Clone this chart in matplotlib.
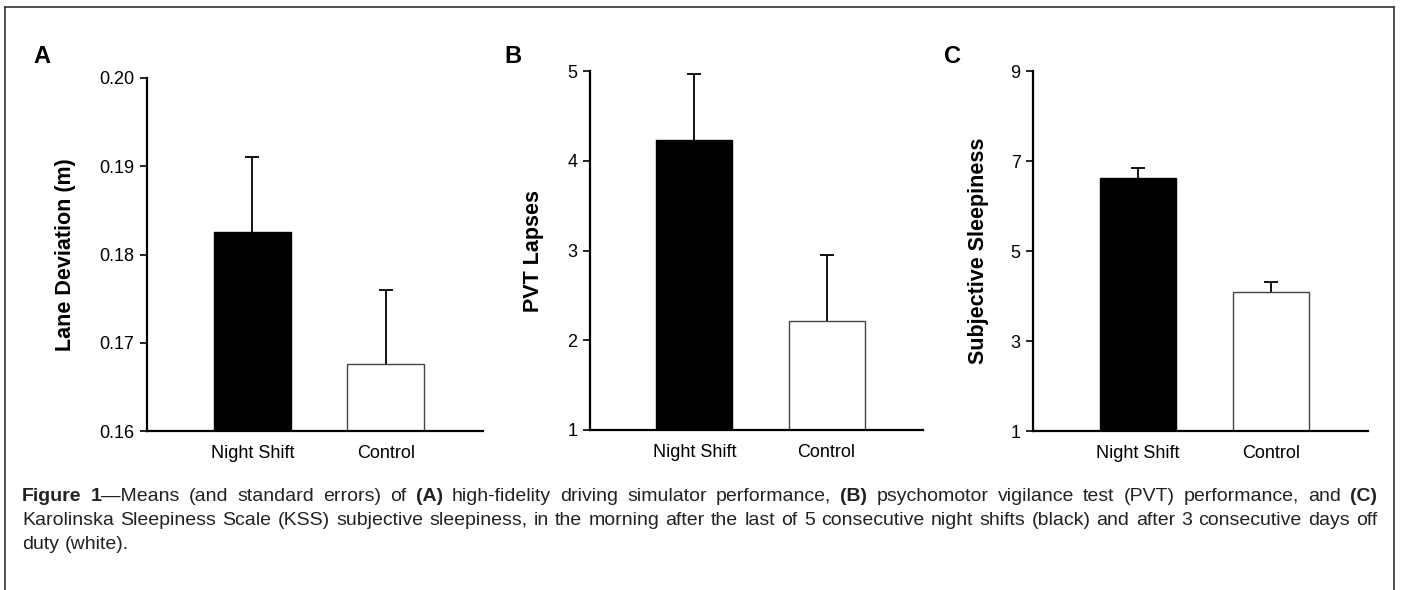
import matplotlib
matplotlib.use("Agg")
import matplotlib.pyplot as plt
from matplotlib import font_manager
from matplotlib.lines import Line2D

# ---------------------------------------------------------------------------
# Data
# ---------------------------------------------------------------------------
groups = ["Night Shift", "Control"]

lane_dev = [0.1825, 0.1676]
lane_dev_se = [0.0085, 0.0084]

pvt_lapses = [4.23, 2.21]
pvt_lapses_se = [0.74, 0.74]

sleepiness = [6.62, 4.09]
sleepiness_se = [0.22, 0.22]

lane_ticks = [0.16, 0.17, 0.18, 0.19, 0.20]
pvt_ticks = [1, 2, 3, 4, 5]
kss_ticks = [1, 3, 5, 7, 9]

caption_lines = [
    [("Figure 1", True), ("\u2014Means (and standard errors) of ", False), ("(A)", True),
     (" high-fidelity driving simulator performance, ", False), ("(B)", True),
     (" psychomotor vigilance test (PVT) performance, and ", False), ("(C)", True)],
    [("Karolinska Sleepiness Scale (KSS) subjective sleepiness, in the morning after the "
      "last of 5 consecutive night shifts (black) and after 3 consecutive days off", False)],
    [("duty (white).", False)],
]

# ---------------------------------------------------------------------------
# Figure setup
# ---------------------------------------------------------------------------
W, H, DPI = 1401, 590, 100
BASE = ["Liberation Sans", "DejaVu Sans"]
plt.rcParams["font.family"] = BASE

installed = {f.name for f in font_manager.fontManager.ttflist}
if "Liberation Sans Narrow" in installed:
    LABEL_FONT, LABEL_SIZE = ["Liberation Sans Narrow"], 19
else:
    LABEL_FONT, LABEL_SIZE = BASE, 15.5

fig = plt.figure(figsize=(W / DPI, H / DPI), dpi=DPI)
fig.patch.set_facecolor("white")


def fx(x):
    return x / W


def fy(y):
    return 1 - y / H


# panel boxes in pixels: left, right, top, bottom
panels = [
    dict(box=(147, 483, 78, 431), vals=lane_dev, se=lane_dev_se, ticks=lane_ticks,
         fmt="{:.2f}", ylabel="Lane Deviation (m)", letter="A", letter_x=33, label_x=66),
    dict(box=(590, 923, 71, 430), vals=pvt_lapses, se=pvt_lapses_se, ticks=pvt_ticks,
         fmt="{:d}", ylabel="PVT Lapses", letter="B", letter_x=504, label_x=533),
    dict(box=(1033, 1368, 71, 431), vals=sleepiness, se=sleepiness_se, ticks=kss_ticks,
         fmt="{:d}", ylabel="Subjective Sleepiness", letter="C", letter_x=944, label_x=978),
]

x = [0, 1]
for p in panels:
    l, r, t, b = p["box"]
    ax = fig.add_axes([fx(l), fy(b), (r - l) / W, (b - t) / H])
    ax.bar(x, p["vals"], width=0.575, color=["black", "white"],
           edgecolor=["black", "#444444"], linewidth=1.0, zorder=2)
    _, caps, _ = ax.errorbar(x, p["vals"], yerr=[[0, 0], p["se"]], fmt="none",
                             ecolor="black", elinewidth=1.3, capsize=5, capthick=1.3,
                             zorder=1)
    # keep only the upper caps
    for cap in caps:
        if list(cap.get_ydata()) == list(p["vals"]):
            cap.set_visible(False)
    ax.set_xlim(-0.79, 1.73)
    ax.set_ylim(p["ticks"][0], p["ticks"][-1])
    ax.set_yticks(p["ticks"], [p["fmt"].format(v) for v in p["ticks"]])
    ax.set_xticks(x, groups)
    for side in ["top", "right"]:
        ax.spines[side].set_visible(False)
    for side in ["left", "bottom"]:
        ax.spines[side].set_linewidth(1.6)
    ax.tick_params(axis="y", direction="out", length=5, width=1.2, pad=4, labelsize=13)
    ax.tick_params(axis="x", length=0, pad=10, labelsize=13)

    fig.text(fx(p["label_x"]), fy((t + b) / 2), p["ylabel"], rotation=90,
             ha="center", va="center", fontsize=LABEL_SIZE, fontweight="bold",
             family=LABEL_FONT)
    fig.text(fx(p["letter_x"]), fy(63), p["letter"], ha="left", va="baseline",
             fontsize=17, fontweight="bold")

# ---------------------------------------------------------------------------
# Frame round the figure (open at the bottom)
# ---------------------------------------------------------------------------
frame = dict(color="#333333", linewidth=1.2, transform=fig.transFigure)
fig.add_artist(Line2D([fx(5), fx(1394)], [fy(7), fy(7)], **frame))
fig.add_artist(Line2D([fx(5), fx(5)], [fy(7), 0], **frame))
fig.add_artist(Line2D([fx(1394), fx(1394)], [fy(7), 0], **frame))

# ---------------------------------------------------------------------------
# Justified caption
# ---------------------------------------------------------------------------
CAP_SIZE = 14.0
CAP_LEFT, CAP_RIGHT = 22, 1377
baselines = [501, 525, 549]
renderer = fig.canvas.get_renderer()

space = fig.text(0, 0, "a a", fontsize=CAP_SIZE)
aa = fig.text(0, 0, "aa", fontsize=CAP_SIZE)
space_w = (space.get_window_extent(renderer).width - aa.get_window_extent(renderer).width)
space.remove()
aa.remove()

for i, line in enumerate(caption_lines):
    words = [[]]
    for text, bold in line:
        pieces = text.split(" ")
        for j, piece in enumerate(pieces):
            if j > 0:
                words.append([])
            if piece:
                words[-1].append((piece, bold))
    words = [w for w in words if w]

    placed = []
    total = 0
    for w in words:
        parts = []
        for piece, bold in w:
            t = fig.text(0, 0, piece, fontsize=CAP_SIZE, ha="left", va="baseline",
                         fontweight="bold" if bold else "normal", color="#222222")
            pw = t.get_window_extent(renderer).width
            parts.append((t, pw))
            total += pw
        placed.append(parts)

    justify = i < len(caption_lines) - 1
    gap = (CAP_RIGHT - CAP_LEFT - total) / (len(words) - 1) if justify else space_w
    gap = max(gap, 0.6 * space_w)
    cx = CAP_LEFT
    for parts in placed:
        for t, pw in parts:
            t.set_position((fx(cx), fy(baselines[i])))
            cx += pw
        cx += gap

fig.savefig("out.png", dpi=DPI)
